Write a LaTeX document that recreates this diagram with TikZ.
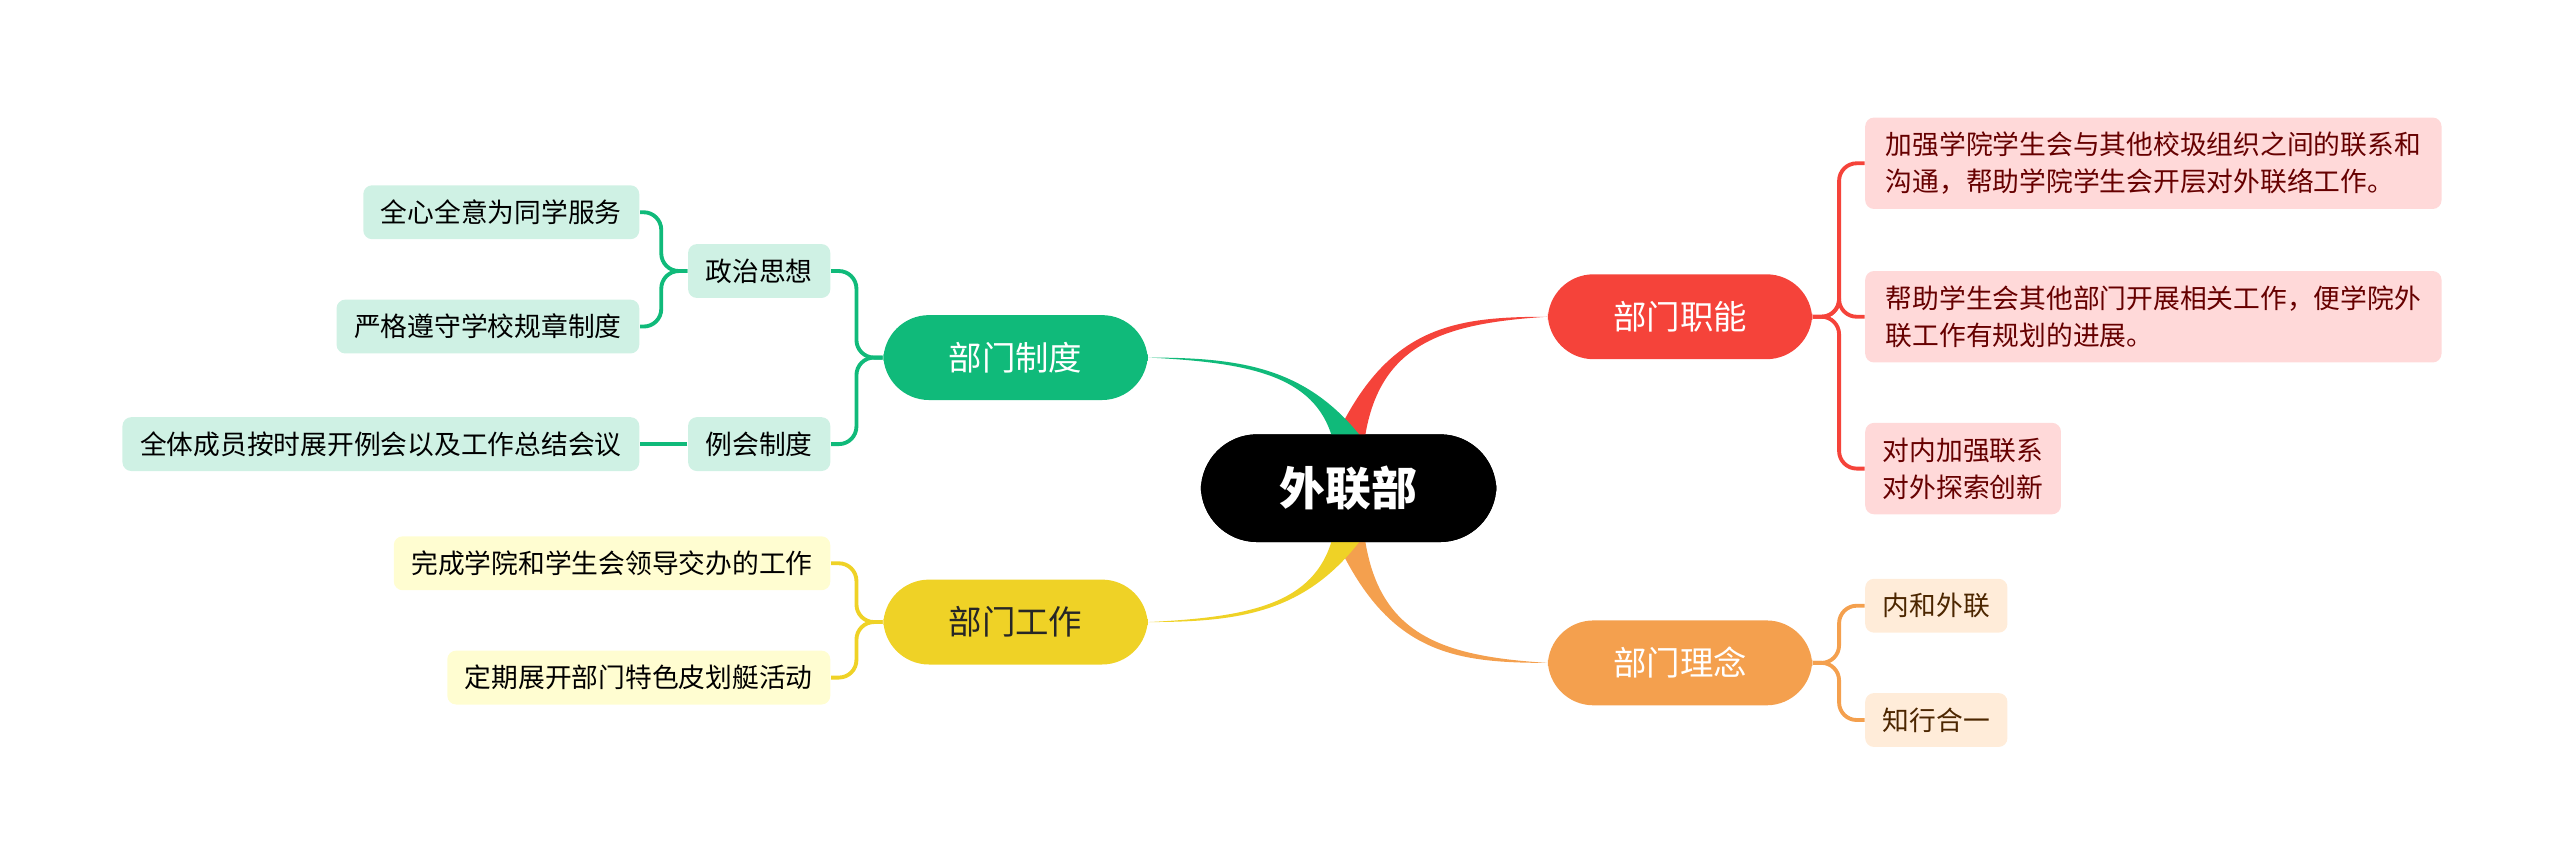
\documentclass[tikz,border=0pt]{standalone}
\usepackage{fontspec}
\setmainfont{Noto Sans CJK SC}
\usetikzlibrary{positioning,calc}
\definecolor{cred}{HTML}{F5433A}
\definecolor{corange}{HTML}{F4A04E}
\definecolor{cgreen}{HTML}{10BA7A}
\definecolor{cyellow}{HTML}{EFD226}
\tikzstyle{root}=[fill=black, text=white, rounded corners=16pt, minimum width=181*0.163mm, minimum height=66*0.163mm, font=\fontsize{13}{15}\selectfont\bfseries]
\tikzstyle{branch}=[rounded corners=13pt, text=white, minimum width=162*0.163mm, minimum height=52*0.163mm, font=\fontsize{9.5}{11}\selectfont]
\tikzstyle{leaf}=[rounded corners=2.5pt, inner xsep=5pt, minimum height=33*0.163mm, font=\fontsize{7.6}{10.5}\selectfont, align=left]
\tikzstyle{link}=[line width=1.1pt, rounded corners=5pt]
\begin{document}
\begin{tikzpicture}[x=0.163mm, y=-0.163mm]
    \useasboundingbox (0,0) rectangle (1568,531);

    % 中心
    \node[root] (R) at (826,299) {外联部};

    % 主分支
    \node[branch, fill=cred] (Zn) at (1029,194) {部门职能};
    \node[branch, fill=corange] (Ln) at (1029,406) {部门理念};
    \node[branch, fill=cgreen] (Zd) at (622,219) {部门制度};
    \node[branch, fill=cyellow, text=black!85] (Gz) at (622,381) {部门工作};

    % 中心到分支的连线
    \begin{scope}[on background layer/.style={}]
    \fill[cred] (818,268) .. controls (850,200) and (890,194) .. (Zn.west) .. controls (885,198) and (845,210) .. (836,268) -- cycle;
    \fill[corange] (818,330) .. controls (850,400) and (890,406) .. (Ln.west) .. controls (885,402) and (845,390) .. (836,330) -- cycle;
    \fill[cgreen] (834,268) .. controls (800,225) and (760,219) .. (Zd.east) .. controls (765,222) and (805,230) .. (816,268) -- cycle;
    \fill[cyellow] (834,330) .. controls (800,375) and (760,381) .. (Gz.east) .. controls (765,378) and (805,370) .. (816,330) -- cycle;
    \end{scope}
    \node[root] at (R) {外联部};

    % 部门职能
    \node[leaf, fill=red!15, text=red!40!black, anchor=west, minimum width=353*0.163mm, minimum height=56*0.163mm] (Zn1) at (1142,100) {加强学院学生会与其他校圾组织之间的联系和\\沟通，帮助学院学生会开层对外联络工作。};
    \node[leaf, fill=red!15, text=red!40!black, anchor=west, minimum width=353*0.163mm, minimum height=56*0.163mm] (Zn2) at (1142,194) {帮助学生会其他部门开展相关工作，便学院外\\联工作有规划的进展。};
    \node[leaf, fill=red!15, text=red!40!black, anchor=west, minimum height=56*0.163mm] (Zn3) at (1142,287) {对内加强联系\\对外探索创新};
    \foreach \l in {Zn1,Zn2,Zn3}
      \draw[link, cred] (Zn.east) -- ++(16,0) |- (\l.west);

    % 部门理念
    \node[leaf, fill=orange!15, text=orange!30!black, anchor=west] (Ln1) at (1142,371) {内和外联};
    \node[leaf, fill=orange!15, text=orange!30!black, anchor=west] (Ln2) at (1142,441) {知行合一};
    \foreach \l in {Ln1,Ln2}
      \draw[link, corange] (Ln.east) -- ++(16,0) |- (\l.west);

    % 部门制度
    \node[leaf, fill=cgreen!20, anchor=east] (Zd1) at (509,166) {政治思想};
    \node[leaf, fill=cgreen!20, anchor=east] (Zd2) at (509,272) {例会制度};
    \foreach \l in {Zd1,Zd2}
      \draw[link, cgreen] (Zd.west) -- ++(-16,0) |- (\l.east);
    \node[leaf, fill=cgreen!20, anchor=east] (Zd11) at (392,130) {全心全意为同学服务};
    \node[leaf, fill=cgreen!20, anchor=east] (Zd12) at (392,200) {严格遵守学校规章制度};
    \node[leaf, fill=cgreen!20, anchor=east] (Zd21) at (392,272) {全体成员按时展开例会以及工作总结会议};
    \foreach \l in {Zd11,Zd12}
      \draw[link, cgreen] (Zd1.west) -- ++(-16,0) |- (\l.east);
    \draw[link, cgreen] (Zd2.west) -- (Zd21.east);

    % 部门工作
    \node[leaf, fill=yellow!18, anchor=east] (Gz1) at (509,345) {完成学院和学生会领导交办的工作};
    \node[leaf, fill=yellow!18, anchor=east] (Gz2) at (509,415) {定期展开部门特色皮划艇活动};
    \foreach \l in {Gz1,Gz2}
      \draw[link, cyellow] (Gz.west) -- ++(-16,0) |- (\l.east);
\end{tikzpicture}
\end{document}
